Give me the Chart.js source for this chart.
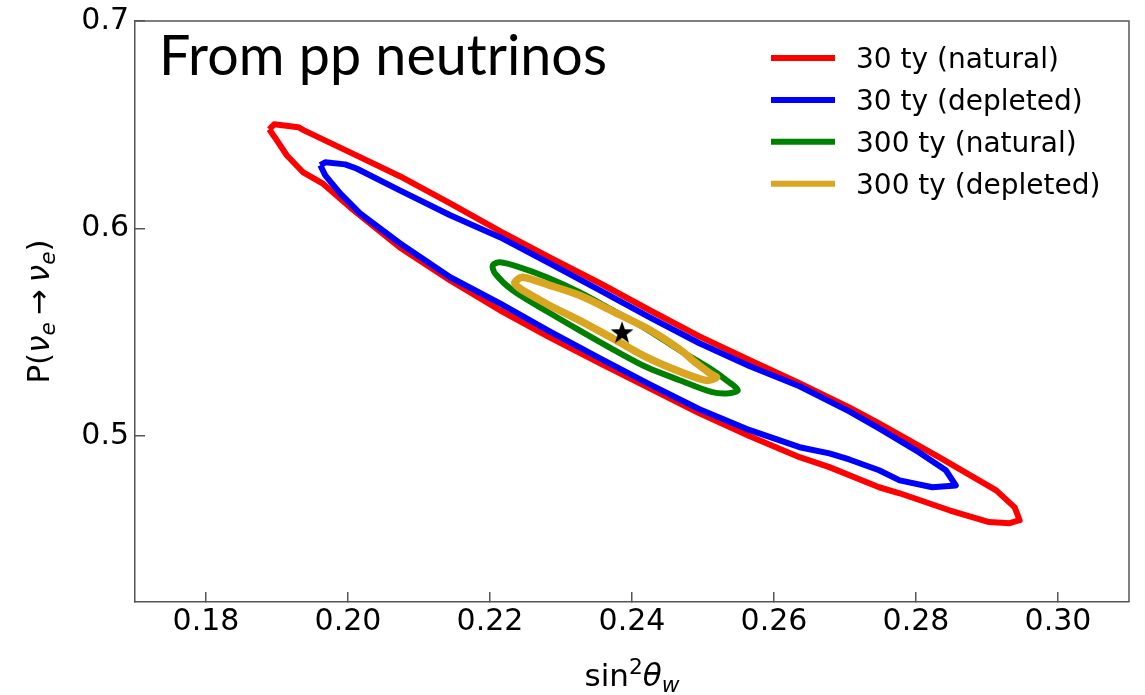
<!DOCTYPE html>
<html>
<head>
<meta charset="utf-8">
<script src="https://cdn.jsdelivr.net/npm/chart.js@4.4.0/dist/chart.umd.min.js"></script>
<style>
  html, body { margin: 0; padding: 0; background: #fff; }
  canvas { display: block; }
</style>
</head>
<body>
<canvas id="contourChart" width="1145" height="695"></canvas>
<script>
// contour outlines, [sin^2 theta_w, P(nue -> nue)] pairs traced around each loop
const natural30 = [
  [0.1889,0.6478],[0.1896,0.6502],[0.1930,0.6488],[0.1938,0.6473],[0.2003,0.6367],[0.2073,0.6252],
  [0.2144,0.6121],[0.2214,0.5987],[0.2284,0.5861],[0.2355,0.5736],[0.2425,0.5606],[0.2495,0.5480],
  [0.2566,0.5365],[0.2636,0.5254],[0.2706,0.5138],[0.2748,0.5061],[0.2833,0.4897],[0.2913,0.4738],
  [0.2939,0.4656],[0.2946,0.4594],[0.2932,0.4580],[0.2903,0.4585],[0.2847,0.4642],[0.2777,0.4724],
  [0.2748,0.4753],[0.2678,0.4850],[0.2636,0.4898],[0.2566,0.4999],[0.2495,0.5109],[0.2425,0.5230],
  [0.2355,0.5350],[0.2284,0.5475],[0.2214,0.5606],[0.2144,0.5750],[0.2073,0.5909],[0.2003,0.6102],
  [0.1964,0.6218],[0.1937,0.6270],[0.1914,0.6352],[0.1897,0.6439]
];
const depleted30 = [
  [0.1961,0.6305],[0.1968,0.6319],[0.1996,0.6309],[0.2012,0.6289],[0.2073,0.6184],[0.2144,0.6064],
  [0.2214,0.5958],[0.2284,0.5832],[0.2355,0.5702],[0.2425,0.5572],[0.2495,0.5447],[0.2566,0.5336],
  [0.2636,0.5240],[0.2706,0.5119],[0.2748,0.5037],[0.2804,0.4922],[0.2842,0.4835],[0.2856,0.4762],
  [0.2823,0.4753],[0.2777,0.4786],[0.2748,0.4835],[0.2706,0.4887],[0.2678,0.4916],[0.2636,0.4946],
  [0.2566,0.5028],[0.2495,0.5129],[0.2425,0.5249],[0.2355,0.5374],[0.2284,0.5504],[0.2214,0.5639],
  [0.2144,0.5765],[0.2073,0.5929],[0.2017,0.6073],[0.1989,0.6169],[0.1968,0.6256]
];
// the two small loops start mid-edge so the smoothed seam falls on a straight stretch
const natural300 = [
  [0.2373,0.5606],[0.2421,0.5514],[0.2467,0.5413],[0.2509,0.5327],[0.2537,0.5259],[0.2549,0.5221],
  [0.2537,0.5206],[0.2513,0.5211],[0.2467,0.5269],[0.2421,0.5331],[0.2373,0.5418],[0.2326,0.5509],
  [0.2280,0.5601],[0.2232,0.5702],[0.2207,0.5784],[0.2204,0.5823],[0.2214,0.5837],[0.2242,0.5813],
  [0.2280,0.5765],[0.2326,0.5693]
];
const depleted300 = [
  [0.2373,0.5601],[0.2421,0.5519],[0.2467,0.5418],[0.2491,0.5350],[0.2512,0.5297],[0.2519,0.5282],
  [0.2505,0.5268],[0.2467,0.5311],[0.2421,0.5379],[0.2373,0.5470],[0.2326,0.5557],[0.2284,0.5629],
  [0.2246,0.5702],[0.2238,0.5722],[0.2235,0.5741],[0.2246,0.5765],[0.2284,0.5726],[0.2326,0.5678]
];
const bestFit = [0.2386, 0.55];

const seriesLabels = ['30 ty (natural)', '30 ty (depleted)', '300 ty (natural)', '300 ty (depleted)'];
const seriesColors = ['#ff0000', '#0000ff', '#008000', '#daa520'];

const xTicks = [0.18, 0.20, 0.22, 0.24, 0.26, 0.28, 0.30];
const yTicks = [0.5, 0.6, 0.7];

const FONT = 'DejaVu Sans';
const AXIS_COLOR = '#555';

function closedLoop(pts) {
  return pts.concat([pts[0]]).map(p => ({ x: p[0], y: p[1] }));
}

function contour(i, pts, width, order, tension) {
  return {
    label: seriesLabels[i],
    data: closedLoop(pts),
    showLine: true,
    borderColor: seriesColors[i],
    backgroundColor: seriesColors[i],
    borderWidth: width,
    borderJoinStyle: 'round',
    pointRadius: 0,
    tension: tension,
    fill: false,
    order: order
  };
}

// filled five-point star used as the best-fit marker
function starImage(size, color) {
  const c = document.createElement('canvas');
  c.width = c.height = size;
  const g = c.getContext('2d');
  g.fillStyle = color;
  g.beginPath();
  for (let i = 0; i < 10; i++) {
    const r = i % 2 ? size * 0.2 : size / 2;
    const a = -Math.PI / 2 + i * Math.PI / 5;
    g.lineTo(size / 2 + r * Math.cos(a), size / 2 + r * Math.sin(a) + size * 0.04);
  }
  g.closePath();
  g.fill();
  return c;
}

// draws a short run of text pieces with sub/superscripts, centred on (cx, cy)
function drawMath(ctx, runs, size, cx, cy, rotate) {
  const fontOf = r => (r.it ? 'italic ' : '') + (r.pos ? size * 0.7 : size) + 'px "' + FONT + '"';
  let total = 0;
  runs.forEach(r => {
    ctx.font = fontOf(r);
    r.w = ctx.measureText(r.t).width + (r.gap || 0);
    total += r.w;
  });
  ctx.save();
  ctx.translate(cx, cy);
  if (rotate) ctx.rotate(-Math.PI / 2);
  ctx.textAlign = 'left';
  ctx.textBaseline = 'alphabetic';
  let x = -total / 2;
  runs.forEach(r => {
    ctx.font = fontOf(r);
    const dy = r.pos < 0 ? size * 0.2 : r.pos > 0 ? -size * 0.4 : 0;
    ctx.fillText(r.t, x + (r.gap || 0) / 2, dy);
    x += r.w;
  });
  ctx.restore();
}

const decorations = {
  id: 'decorations',
  afterDraw(chart) {
    const { ctx, chartArea: a } = chart;
    ctx.save();

    // top and right frame
    ctx.strokeStyle = AXIS_COLOR;
    ctx.lineWidth = 1.5;
    ctx.beginPath();
    ctx.moveTo(a.left, a.top);
    ctx.lineTo(a.right, a.top);
    ctx.lineTo(a.right, a.bottom);
    ctx.stroke();

    // panel title
    ctx.fillStyle = '#000';
    ctx.font = '57px Lato';
    ctx.textBaseline = 'alphabetic';
    ctx.textAlign = 'left';
    const title = 'From pp neutrinos';
    const tw = ctx.measureText(title).width;
    ctx.save();
    ctx.translate(159, 75);
    ctx.scale(448 / tw, 1);
    ctx.fillText(title, 0, 0);
    ctx.restore();

    // legend
    ctx.font = '28px "' + FONT + '"';
    chart.data.datasets.forEach((d, i) => {
      if (!d.label) return;
      const y = 58 + i * 41.9;
      ctx.strokeStyle = d.borderColor;
      ctx.lineWidth = 6;
      ctx.lineCap = 'butt';
      ctx.beginPath();
      ctx.moveTo(771, y);
      ctx.lineTo(835, y);
      ctx.stroke();
      ctx.fillStyle = '#000';
      ctx.fillText(d.label, 856, y + 10.3);
    });

    // axis titles
    ctx.fillStyle = '#000';
    drawMath(ctx, [
      { t: 'sin' }, { t: '2', pos: 1 }, { t: 'θ', it: true }, { t: 'w', it: true, pos: -1 }
    ], 31, (a.left + a.right) / 2, 686, false);
    drawMath(ctx, [
      { t: 'P(' }, { t: 'ν', it: true }, { t: 'e', it: true, pos: -1 },
      { t: '→', gap: 14 }, { t: 'ν', it: true }, { t: 'e', it: true, pos: -1 }, { t: ')' }
    ], 31, 49, (a.top + a.bottom) / 2, true);

    ctx.restore();
  }
};

const datasets = [
  contour(0, natural30, 6, 4, 0),
  contour(1, depleted30, 6, 3, 0),
  contour(2, natural300, 6, 2, 0.3),
  contour(3, depleted300, 7.5, 1, 0.3),
  {
    data: [{ x: bestFit[0], y: bestFit[1] }],
    pointStyle: starImage(24, '#000'),
    pointRadius: 12,
    showLine: false,
    order: 0
  }
];

// keep tick-label overhang from shrinking the plot box
function noOverhang(s) {
  s.paddingTop = 0;
  s.paddingBottom = 0;
  s.paddingLeft = 0;
  s.paddingRight = 0;
}

const ctx = document.getElementById('contourChart').getContext('2d');
const contourChart = new Chart(ctx, {
  type: 'scatter',
  data: { datasets: datasets },
  options: {
    animation: false,
    responsive: false,
    layout: { padding: { top: 21, right: 16, left: 0, bottom: 0 } },
    scales: {
      x: {
        type: 'linear',
        min: 0.17,
        max: 0.31,
        afterFit: s => { s.height = 93; noOverhang(s); },
        afterBuildTicks: s => { s.ticks = xTicks.map(v => ({ value: v })); },
        ticks: {
          font: { family: FONT, size: 30 },
          color: '#000',
          padding: 12,
          maxRotation: 0,
          autoSkip: false,
          callback: v => v.toFixed(2)
        },
        grid: { drawOnChartArea: false, drawTicks: true, tickLength: -10, color: AXIS_COLOR, lineWidth: 1.5 },
        border: { color: AXIS_COLOR, width: 1.5 }
      },
      y: {
        type: 'linear',
        min: 0.42,
        max: 0.7,
        afterFit: s => { s.width = 135; noOverhang(s); },
        afterBuildTicks: s => { s.ticks = yTicks.map(v => ({ value: v })); },
        ticks: {
          font: { family: FONT, size: 30 },
          color: '#000',
          padding: 16,
          callback: v => v.toFixed(1)
        },
        grid: { drawOnChartArea: false, drawTicks: true, tickLength: -10, color: AXIS_COLOR, lineWidth: 1.5 },
        border: { color: AXIS_COLOR, width: 1.5 }
      }
    },
    plugins: {
      legend: { display: false },
      tooltip: { enabled: false }
    }
  },
  plugins: [decorations]
});
</script>
</body>
</html>
